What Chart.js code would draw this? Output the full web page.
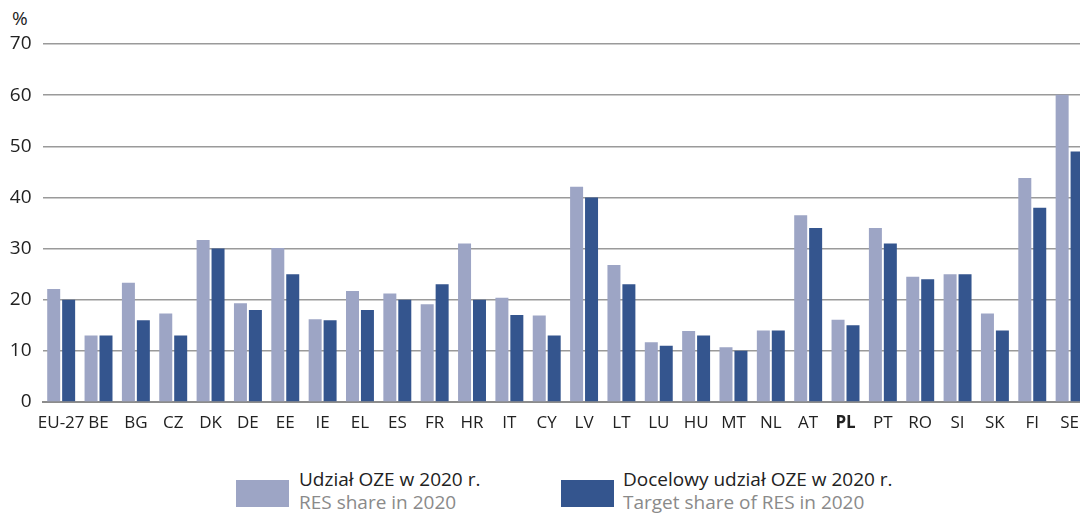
<!DOCTYPE html>
<html lang="pl">
<head>
  <meta charset="UTF-8" />
  <title>Udział OZE w 2020 r.</title>
  <script src="https://cdn.jsdelivr.net/npm/chart.js"></script>
  <style>
    body {
      margin: 0;
      width: 1080px;
      height: 513px;
      overflow: hidden;
      background: #fff;
      font-family: "Open Sans", Arial, sans-serif;
      position: relative;
    }
    #wrap {
      position: absolute;
      left: 0;
      top: 0;
      width: 1090px;
      height: 444px;
    }
    .unit {
      position: absolute;
      left: 12px;
      top: 5px;
      font-size: 19px;
      color: #222;
    }
    .leg {
      position: absolute;
      top: 468px;
      font-size: 19px;
      line-height: 23px;
      white-space: nowrap;
    }
    .leg .box {
      position: absolute;
      top: 12px;
      width: 53px;
      height: 27px;
    }
    .leg .pl { color: #222; }
    .leg .en { color: #8a8a8a; }
  </style>
</head>
<body>
  <div class="unit">%</div>
  <div id="wrap"><canvas id="ozeChart"></canvas></div>

  <div class="leg" style="left:299px">
    <div class="box" style="left:-63px;background:#9da5c5"></div>
    <div class="pl">Udział OZE w 2020 r.</div>
    <div class="en">RES share in 2020</div>
  </div>
  <div class="leg" style="left:623px">
    <div class="box" style="left:-62px;background:#34558e"></div>
    <div class="pl">Docelowy udział OZE w 2020 r.</div>
    <div class="en">Target share of RES in 2020</div>
  </div>

  <script>
    // kraje
    const kraje = ['EU-27', 'BE', 'BG', 'CZ', 'DK', 'DE', 'EE', 'IE', 'EL', 'ES', 'FR', 'HR', 'IT', 'CY',
      'LV', 'LT', 'LU', 'HU', 'MT', 'NL', 'AT', 'PL', 'PT', 'RO', 'SI', 'SK', 'FI', 'SE'];

    // udział OZE w 2020 r. (%)
    const udzial = [22.1, 13.0, 23.3, 17.3, 31.7, 19.3, 30.1, 16.2, 21.7, 21.2, 19.1, 31.0, 20.4, 16.9,
      42.1, 26.8, 11.7, 13.9, 10.7, 14.0, 36.5, 16.1, 34.0, 24.5, 25.0, 17.3, 43.8, 60.1];

    // cel na 2020 r. (%)
    const cel = [20, 13, 16, 13, 30, 18, 25, 16, 18, 20, 23, 20, 17, 13,
      40, 23, 11, 13, 10, 14, 34, 15, 31, 24, 25, 14, 38, 49];

    const yTicks = [0, 10, 20, 30, 40, 50, 60, 70];

    const ctx = document.getElementById('ozeChart').getContext('2d');
    new Chart(ctx, {
      type: 'bar',
      data: {
        labels: kraje,
        datasets: [
          {
            label: 'Udział OZE w 2020 r.',
            data: udzial,
            backgroundColor: '#9da5c5',
            categoryPercentage: 0.8,
            barPercentage: 0.87
          },
          {
            label: 'Docelowy udział OZE w 2020 r.',
            data: cel,
            backgroundColor: '#34558e',
            categoryPercentage: 0.8,
            barPercentage: 0.87
          }
        ]
      },
      options: {
        responsive: true,
        maintainAspectRatio: false,
        animation: false,
        layout: { padding: { top: 44, right: 0, left: 0, bottom: 0 } },
        plugins: {
          legend: { display: false },
          tooltip: { enabled: false }
        },
        scales: {
          x: {
            grid: { display: false, drawTicks: false },
            border: { display: true, color: '#8c8c8c', width: 2 },
            ticks: {
              padding: 11,
              color: '#222',
              maxRotation: 0,
              autoSkip: false,
              font: c => ({
                family: '"Open Sans", Arial, sans-serif',
                size: 17,
                weight: kraje[c.index] === 'PL' ? 'bold' : 'normal'
              })
            },
            afterFit: s => { s.height = 42; }
          },
          y: {
            min: 0,
            max: 70,
            afterBuildTicks: s => { s.ticks = yTicks.map(v => ({ value: v })); },
            grid: { color: '#9a9a9a', lineWidth: 1.5, drawTicks: false },
            border: { display: false },
            ticks: {
              padding: 11,
              color: '#222',
              font: { family: '"Open Sans", Arial, sans-serif', size: 19 }
            },
            afterFit: s => { s.width = 42.5; }
          }
        }
      }
    });
  </script>
</body>
</html>
